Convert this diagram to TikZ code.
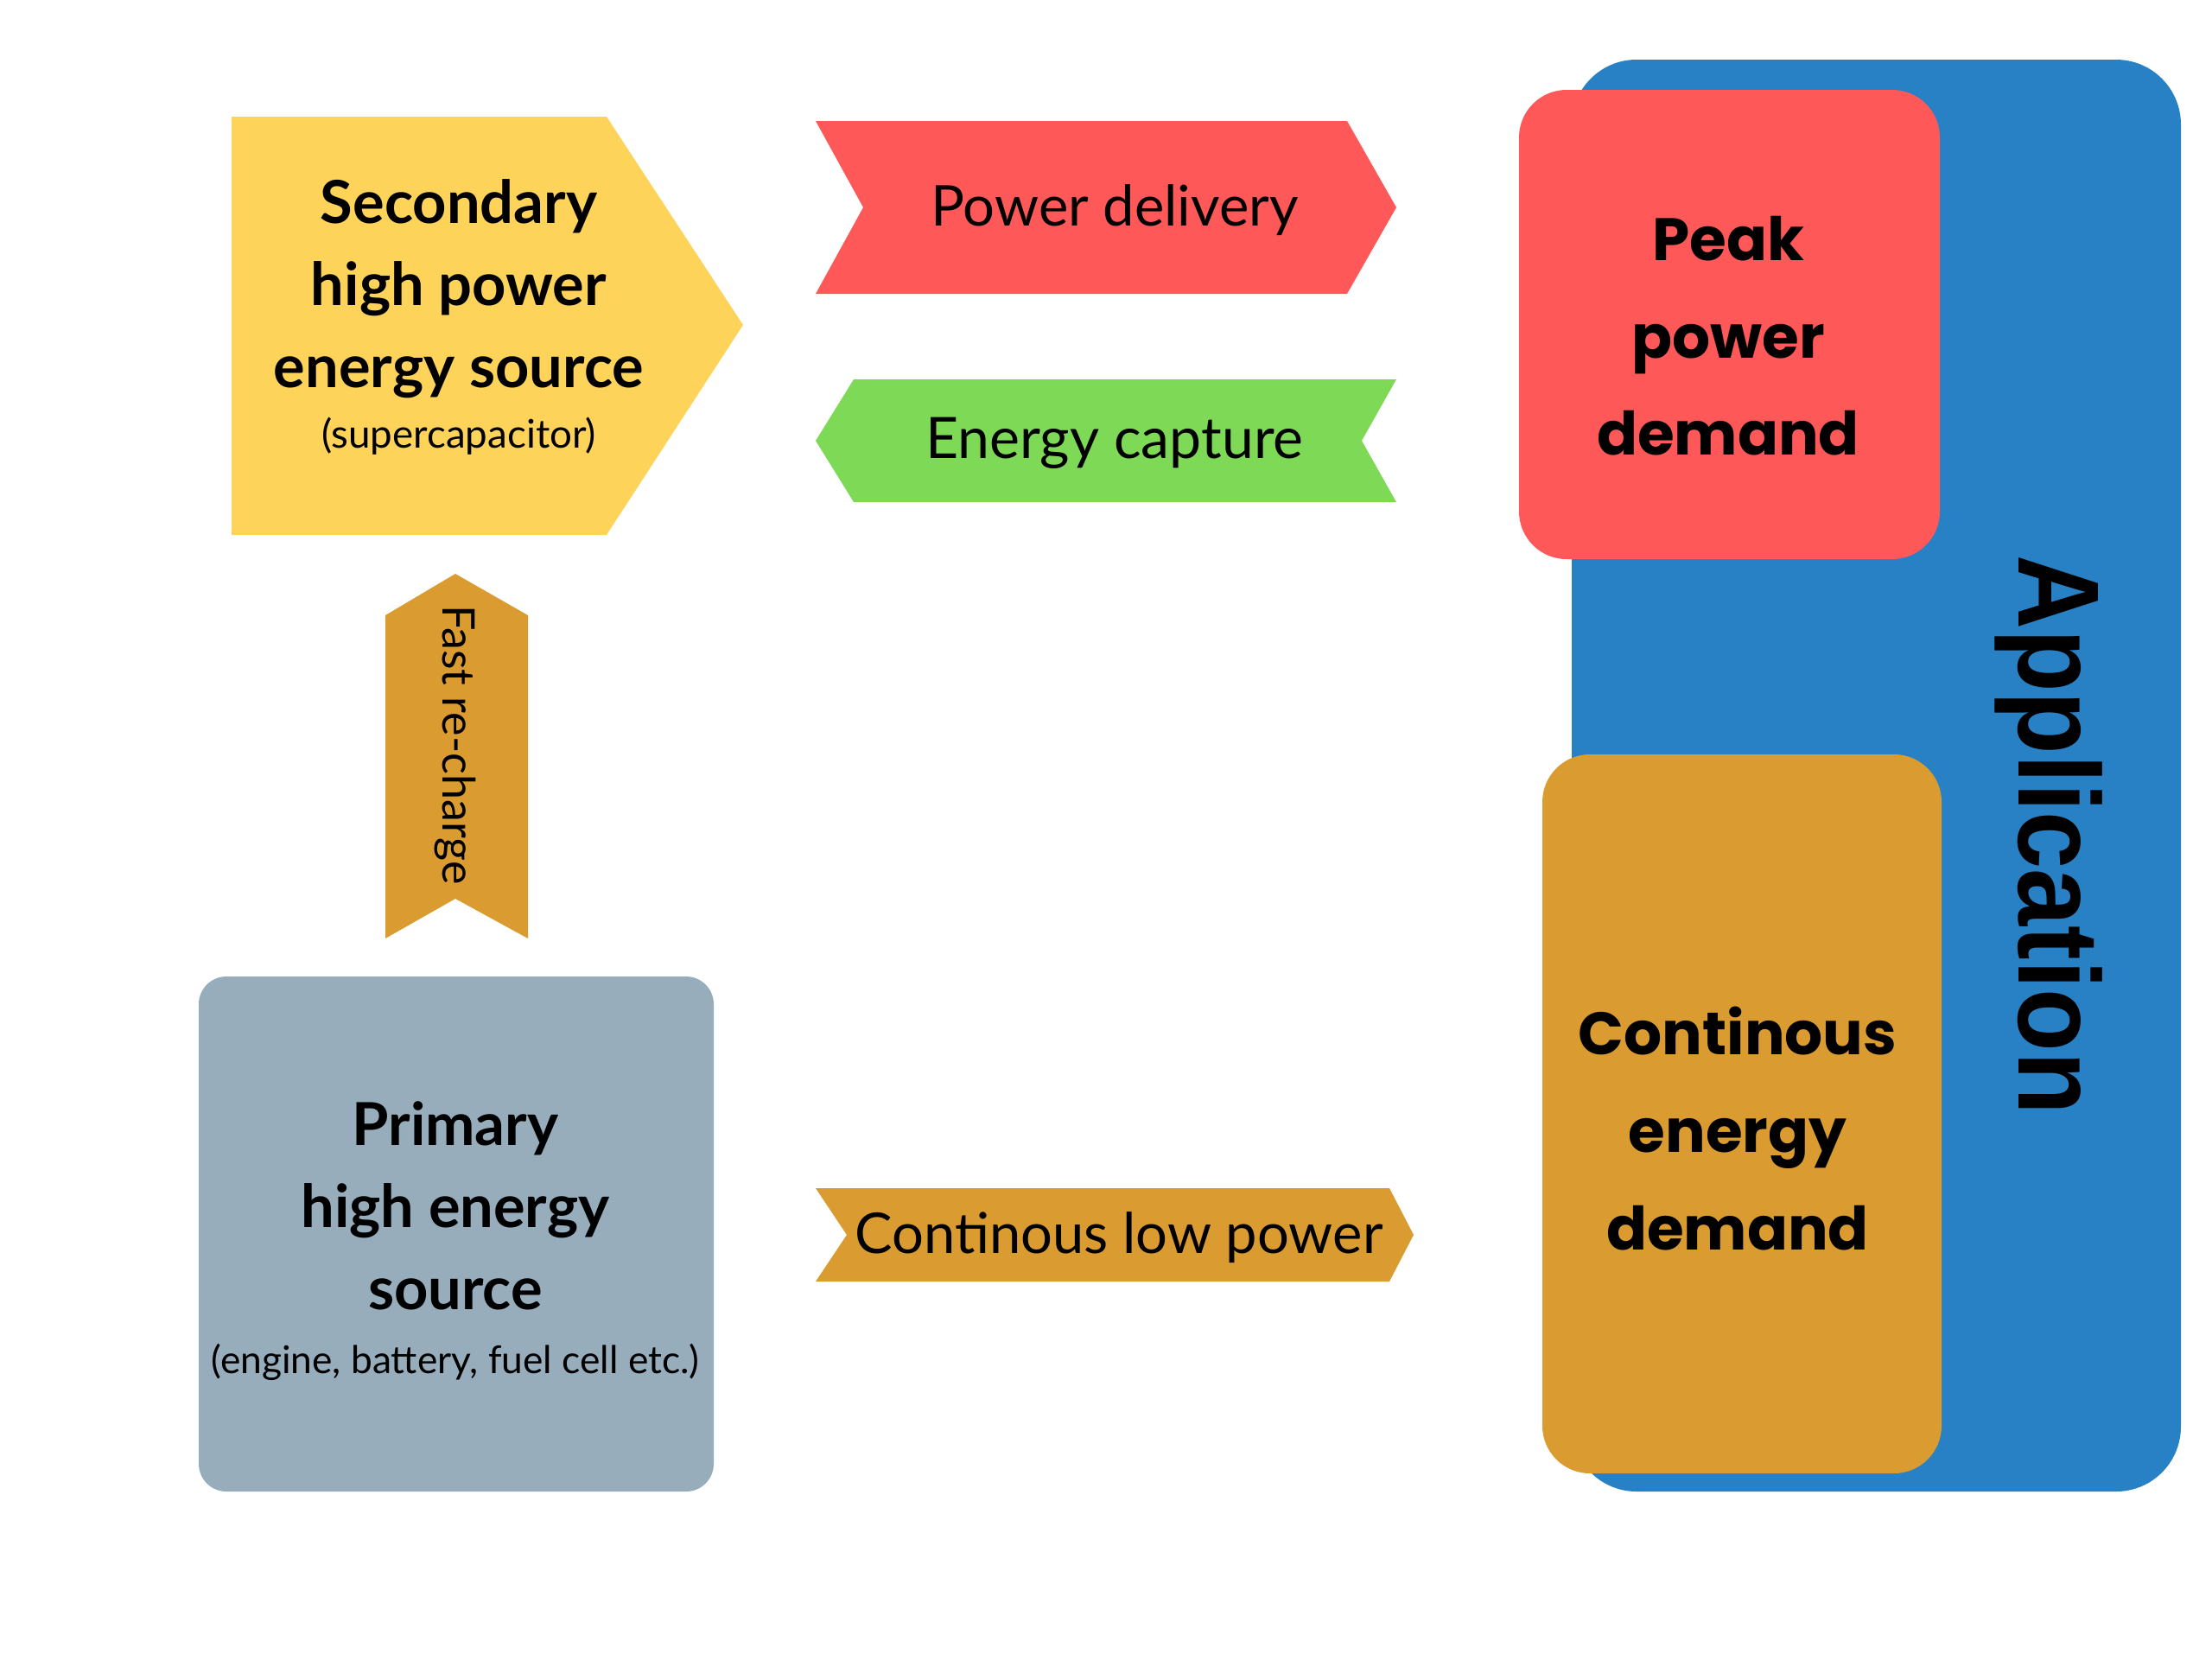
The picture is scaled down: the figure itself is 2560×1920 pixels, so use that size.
\documentclass[tikz,border=0pt]{standalone}
\usepackage{fontspec}
\setmainfont{Lato}
\newfontfamily\headfont{Poppins}
\newfontfamily\appfont{Liberation Sans}
\pgfdeclarelayer{edgelayer}
\pgfdeclarelayer{nodelayer}
\pgfsetlayers{edgelayer,nodelayer,main}
\tikzstyle{none}=[inner sep=0pt]
\tikzstyle{label}=[inner sep=0pt, align=center, text=black]
\tikzstyle{ribbon}=[font={\fontsize{18.5}{22}\selectfont}]
\tikzstyle{head}=[font={\headfont\fontsize{19.7}{32}\selectfont\bfseries}]
\definecolor{yellow}{RGB}{253,211,89}
\definecolor{red}{RGB}{255,88,88}
\definecolor{green}{RGB}{126,217,87}
\definecolor{gold}{RGB}{218,156,49}
\definecolor{slate}{RGB}{151,173,188}
\definecolor{blue}{RGB}{40,128,197}

\begin{document}
\begin{tikzpicture}[x=0.01cm, y=-0.01cm]
	\useasboundingbox (0,0) rectangle (2560,1920);
	\begin{pgfonlayer}{nodelayer}
		\node [style=label, font={\fontsize{19.5}{27}\selectfont\bfseries}] (secondary) at (531,367) {Secondary\\high power\\energy source\\[-7pt]{\fontsize{13}{16}\selectfont\mdseries (supercapacitor)}};
		\node [style=label, font={\fontsize{19.5}{27}\selectfont\bfseries}] (primary) at (527,1436) {Primary\\high energy\\source\\[-6pt]{\fontsize{12.6}{16}\selectfont\mdseries (engine, battery, fuel cell etc.)}};
		\node [style=label, style=ribbon] (delivery) at (1290,243) {Power delivery};
		\node [style=label, style=ribbon, font={\fontsize{18.8}{22}\selectfont}] (capture) at (1290,513) {Energy capture};
		\node [style=label, style=ribbon] (lowpower) at (1295,1432) {Continous low power};
		\node [style=label, rotate=-90, font={\fontsize{14.8}{16}\selectfont}] (recharge) at (527,862) {Fast re-charge};
		\node [style=label, style=head] (peak) at (2000,389) {Peak\\power\\demand};
		\node [style=label, style=head] (continous) at (2011,1306) {Continous\\energy\\demand};
		\node [style=label, rotate=-90, font={\appfont\fontsize{38}{40}\selectfont\bfseries}] (application) at (2371,966) {\scalebox{0.89}[1]{Application}};
	\end{pgfonlayer}
	\begin{pgfonlayer}{edgelayer}
		\fill [color=blue, rounded corners=0.75cm] (1819,69) rectangle (2524,1726);
		\fill [color=red, rounded corners=0.55cm] (1758,104) rectangle (2245,647);
		\fill [color=gold, rounded corners=0.55cm] (1785,873) rectangle (2247,1705);
		\fill [color=slate, rounded corners=0.32cm] (230,1130) rectangle (826,1726);
		\fill [color=yellow] (268,135) -- (702,135) -- (860,376) -- (702,619) -- (268,619) -- cycle;
		\fill [color=gold] (527,664) -- (611,712) -- (611,1086) -- (527,1040) -- (446,1086) -- (446,712) -- cycle;
		\fill [color=red] (944,140) -- (1559,140) -- (1616,240) -- (1559,340) -- (944,340) -- (999,240) -- cycle;
		\fill [color=green] (988,439) -- (1616,439) -- (1576,510) -- (1616,581) -- (988,581) -- (944,510) -- cycle;
		\fill [color=gold] (944,1375) -- (1608,1375) -- (1636,1429) -- (1608,1483) -- (944,1483) -- (980,1429) -- cycle;
	\end{pgfonlayer}
\end{tikzpicture}
\end{document}
